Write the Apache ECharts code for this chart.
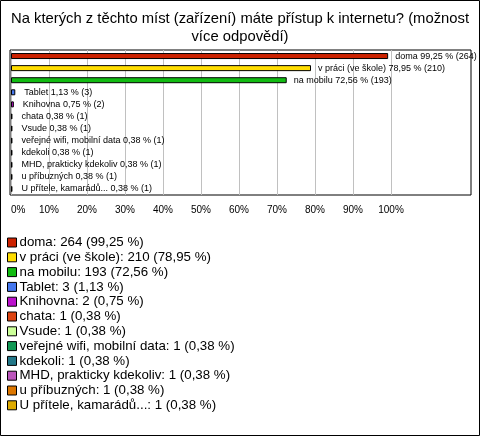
<!DOCTYPE html>
<html><head><meta charset="utf-8">
<script src="https://cdn.jsdelivr.net/npm/echarts@6/dist/echarts.min.js"></script>
<style>html,body{margin:0;padding:0;background:#fff}#c{width:480px;height:436px}</style>
</head><body><div id="c"></div>
<script>
const titleText = 'Na kterých z těchto míst (zařízení) máte přístup k internetu? (možnost\nvíce odpovědí)';
const categories = ['doma','v práci (ve škole)','na mobilu','Tablet','Knihovna','chata','Vsude','veřejné wifi, mobilní data','kdekoli','MHD, prakticky kdekoliv','u příbuzných','U přítele, kamarádů...'];
const counts = [264,210,193,3,2,1,1,1,1,1,1,1];
const percents = [99.25,78.95,72.56,1.13,0.75,0.38,0.38,0.38,0.38,0.38,0.38,0.38];
const colors = ['#cc2200','#ffdd00','#11bb11','#4477ee','#bb11cc','#dd4411','#ccff99','#119955','#227788','#bb55bb','#dd7700','#ddaa00'];
const xTicks = [0,10,20,30,40,50,60,70,80,90,100];

const fmt = v => v.toFixed(2).replace('.', ',');
const FONT = 'Liberation Sans, Arial, sans-serif';

const series = categories.map((c, i) => ({
  name: c,
  type: 'bar',
  xAxisIndex: 1, yAxisIndex: 1,
  stack: 'all',
  barWidth: 6,
  itemStyle: { color: colors[i], borderColor: '#000', borderWidth: 1 },
  label: {
    show: true, position: 'right', distance: i < 3 ? 7 : 9,
    fontSize: 9, fontFamily: FONT, color: '#000',
    formatter: () => c + ' ' + fmt(percents[i]) + ' % (' + counts[i] + ')'
  },
  data: categories.map((_, j) => j === i ? percents[i] : '-')
}));

const chart = echarts.init(document.getElementById('c'), null, {renderer: 'canvas'});
chart.setOption({
  animation: false,
  backgroundColor: '#fff',
  title: {
    text: titleText, left: 'center', top: 5,
    textStyle: { fontSize: 14.8, fontWeight: 'normal', color: '#000', fontFamily: FONT, lineHeight: 18 }
  },
  legend: {
    orient: 'vertical', left: 2, top: 231,
    itemWidth: 9, itemHeight: 9, itemGap: 1.8,
    icon: 'rect', selectedMode: false,
    textStyle: { fontSize: 13.3, color: '#000', fontFamily: FONT, lineHeight: 13, padding: [0,0,0,-2] },
    itemStyle: { borderColor: '#000', borderWidth: 1 },
    formatter: name => { const i = categories.indexOf(name); return name + ': ' + counts[i] + ' (' + fmt(percents[i]) + ' %)'; },
    data: categories
  },
  grid: [
    { left: 10, top: 50, width: 461, height: 145, show: true, borderColor: '#000', borderWidth: 1, backgroundColor: 'transparent' },
    { left: 11, top: 50, width: 380, height: 145 }
  ],
  xAxis: [
    { gridIndex: 0, type: 'value', show: false, min: 0, max: 1 },
    { gridIndex: 1, type: 'value', min: 0, max: 100, interval: 10,
      axisLine: { show: false }, axisTick: { show: false },
      splitLine: { show: true, lineStyle: { color: '#c0c0c0', width: 1 } },
      axisLabel: { formatter: '{value}%', fontSize: 10, color: '#000', fontFamily: FONT, margin: 10, alignMinLabel: 'left' }
    }
  ],
  yAxis: [
    { gridIndex: 0, type: 'value', show: false, min: 0, max: 1 },
    { gridIndex: 1, type: 'category', data: categories, inverse: true, show: false }
  ],
  graphic: [
    { type: 'rect', shape: { x: 0.5, y: 0.5, width: 479, height: 435 }, style: { fill: 'none', stroke: '#000', lineWidth: 1 }, silent: true }
  ],
  series: series
});
</script></body></html>
